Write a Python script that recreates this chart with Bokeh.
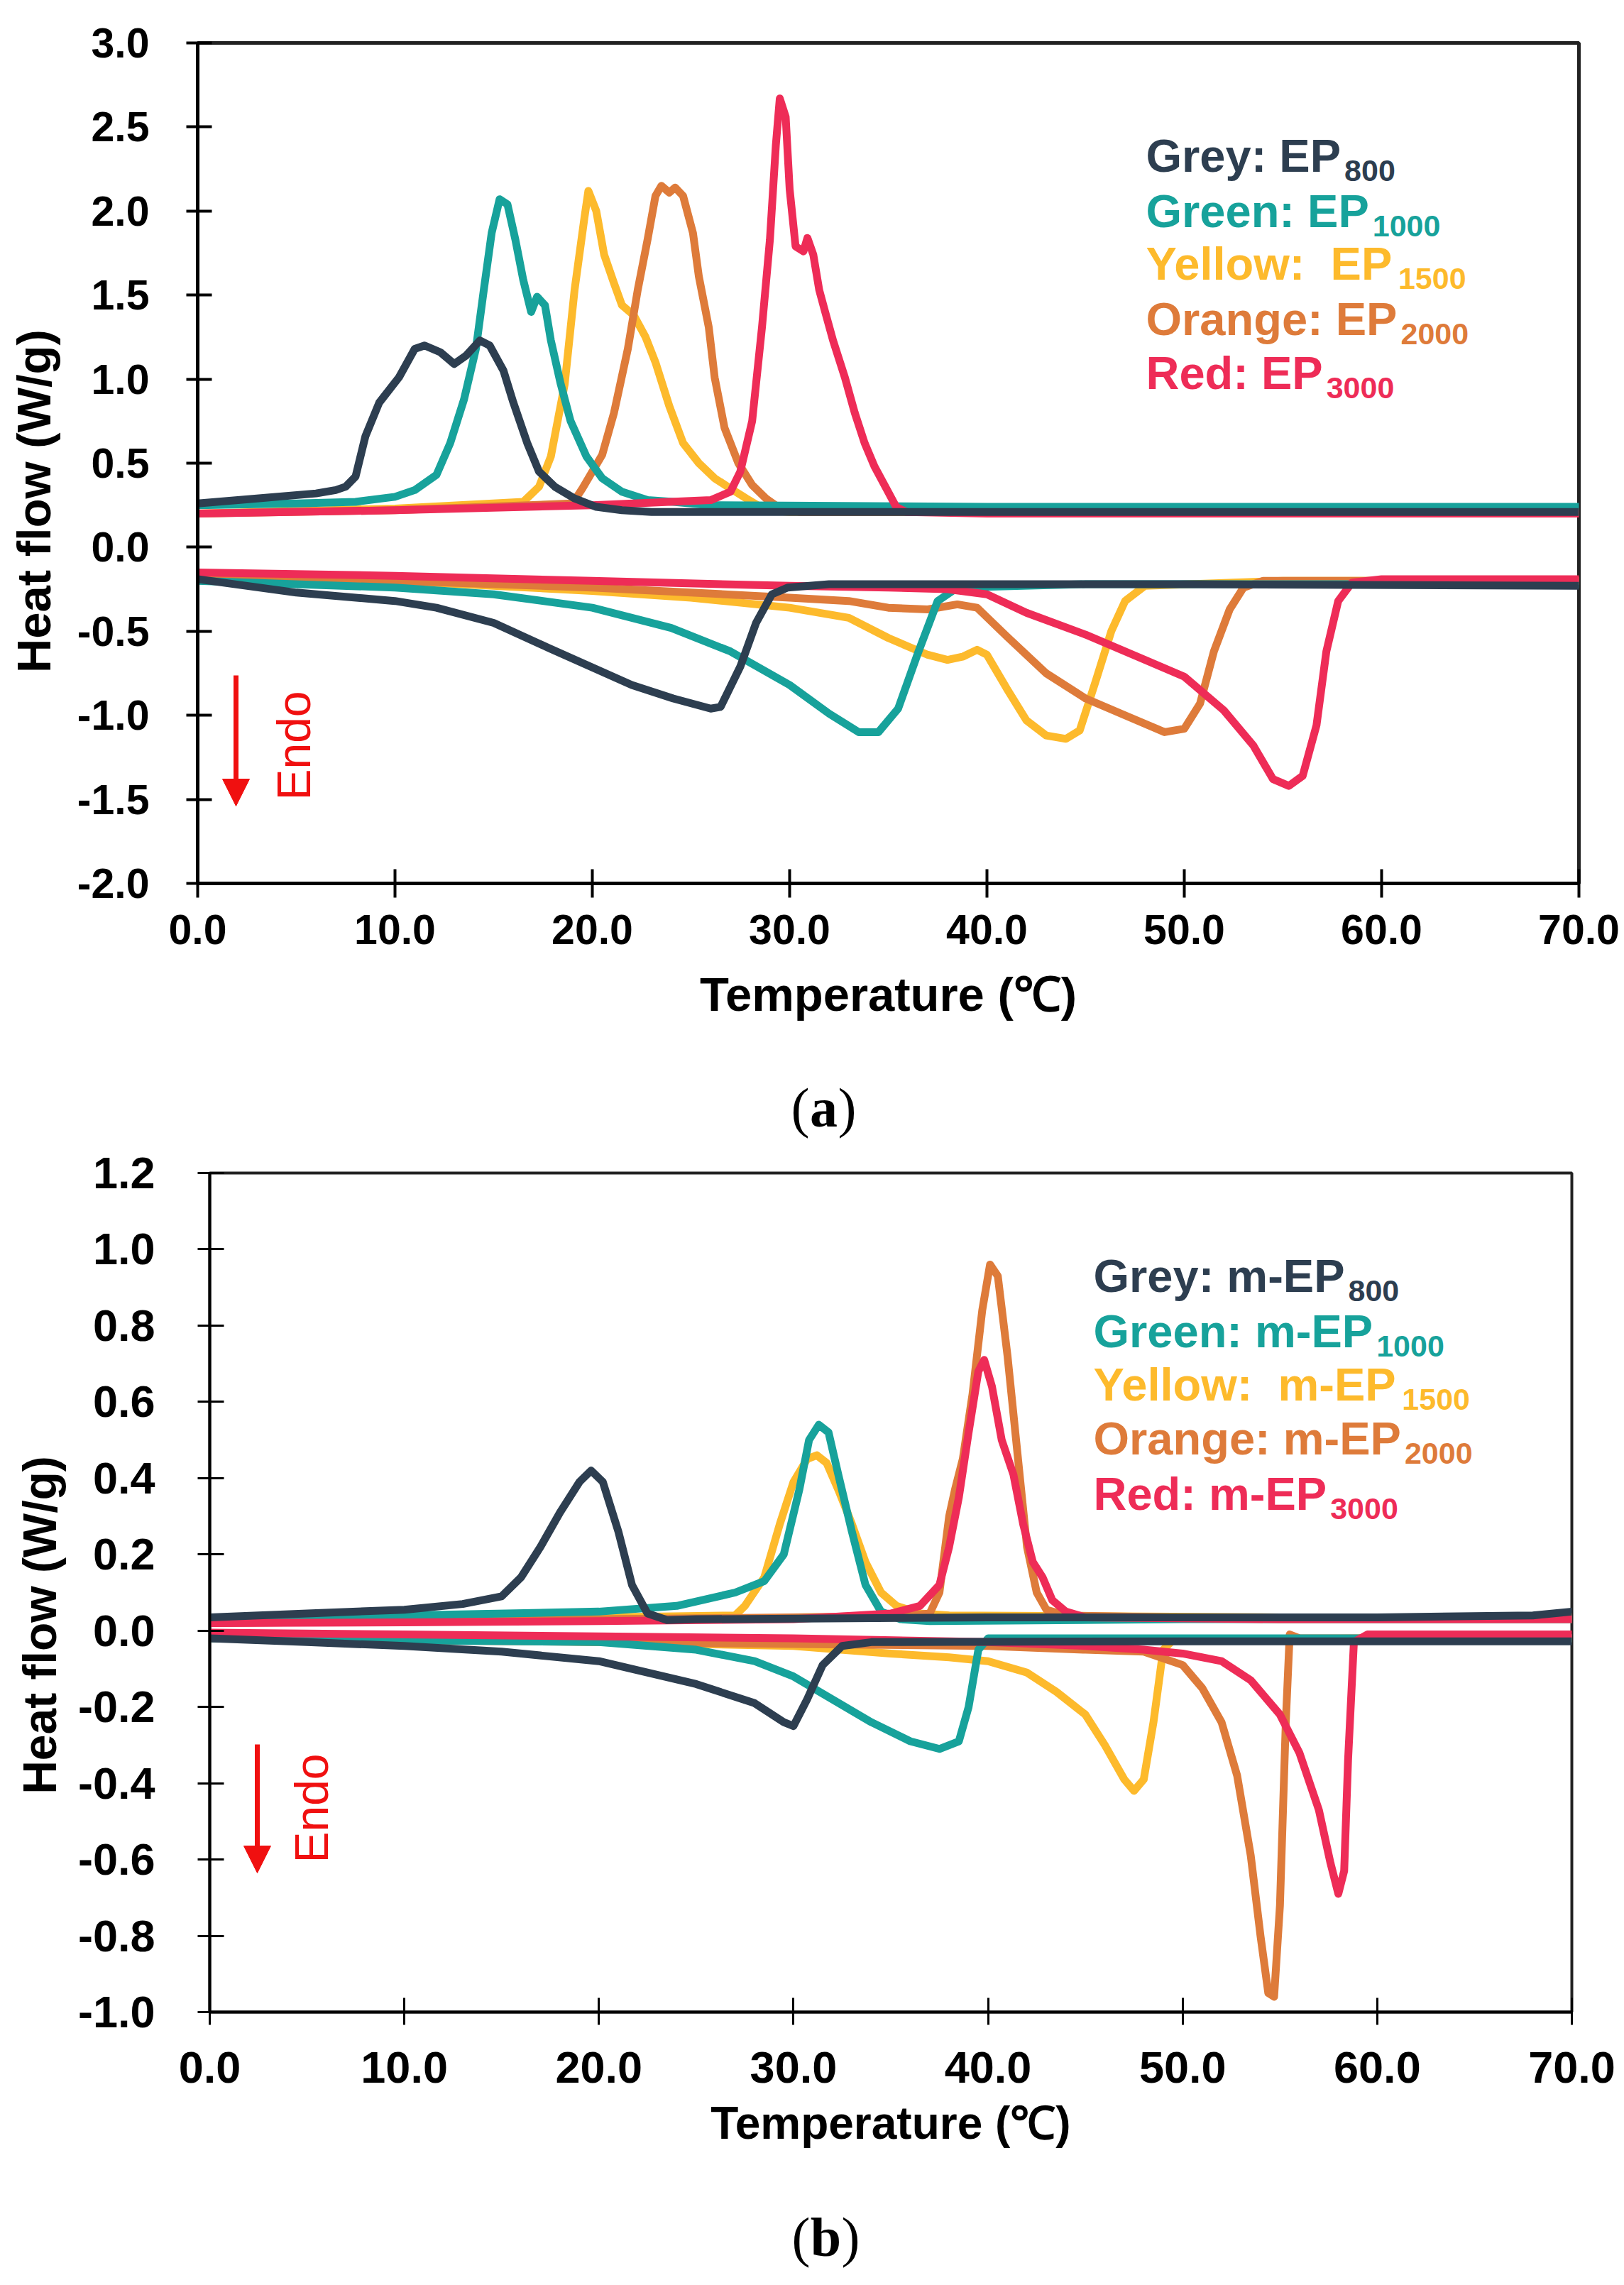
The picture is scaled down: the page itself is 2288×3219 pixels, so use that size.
import math
from bokeh.plotting import figure
from bokeh.models import Range1d, FixedTicker, PrintfTickFormatter, Label, Arrow, NormalHead
from bokeh.layouts import column, row
from bokeh.embed import file_html
from bokeh.resources import INLINE

# ---------------- data: panel (a) ----------------
a_grey_exo_x = [0, 3, 6, 7, 7.5, 8, 8.5, 9.2, 10.2, 11, 11.5, 12.3, 13, 13.6, 14.3, 14.8, 15.5, 16, 16.7, 17.3, 18.1, 19.1, 20.2, 21.5, 23, 40, 70]
a_grey_exo_y = [0.26, 0.29, 0.32, 0.34, 0.36, 0.42, 0.66, 0.86, 1.01, 1.18, 1.2, 1.16, 1.09, 1.14, 1.23, 1.2, 1.05, 0.86, 0.62, 0.45, 0.36, 0.29, 0.24, 0.22, 0.21, 0.21, 0.21]
a_grey_endo_x = [0, 5, 10, 12.1, 15, 17.8, 19.9, 22, 24.1, 26, 26.5, 27.5, 28.3, 29.1, 29.9, 32, 50, 70]
a_grey_endo_y = [-0.19, -0.27, -0.32, -0.36, -0.45, -0.6, -0.71, -0.82, -0.9, -0.96, -0.95, -0.71, -0.45, -0.28, -0.24, -0.22, -0.22, -0.23]

a_green_exo_x = [0, 5, 8, 10, 11, 12.1, 12.8, 13.5, 14.1, 14.5, 14.9, 15.3, 15.7, 16.1, 16.5, 16.9, 17.2, 17.6, 17.9, 18.4, 18.9, 19.7, 20.5, 21.5, 22.8, 24.1, 26, 40, 70]
a_green_exo_y = [0.25, 0.26, 0.27, 0.3, 0.34, 0.43, 0.62, 0.88, 1.18, 1.53, 1.87, 2.07, 2.04, 1.83, 1.59, 1.4, 1.49, 1.44, 1.23, 0.97, 0.75, 0.54, 0.41, 0.33, 0.28, 0.27, 0.25, 0.24, 0.24]
a_green_endo_x = [0, 10, 15, 20, 24, 27, 30, 32, 33.5, 34.5, 35.5, 36.5, 37.5, 38.5, 45, 70]
a_green_endo_y = [-0.2, -0.24, -0.28, -0.36, -0.48, -0.62, -0.82, -0.99, -1.1, -1.1, -0.96, -0.63, -0.32, -0.24, -0.22, -0.22]

a_yellow_exo_x = [0, 10, 16.5, 17.3, 17.9, 18.6, 19.1, 19.6, 19.8, 20.2, 20.6, 21.1, 21.5, 22.1, 22.7, 23.2, 23.9, 24.6, 25.4, 26.2, 27, 27.8, 28.8, 30, 70]
a_yellow_exo_y = [0.2, 0.23, 0.27, 0.36, 0.54, 0.97, 1.53, 1.96, 2.12, 2.0, 1.74, 1.57, 1.44, 1.38, 1.25, 1.1, 0.84, 0.62, 0.5, 0.41, 0.35, 0.29, 0.22, 0.21, 0.21]
a_yellow_endo_x = [0, 10, 20, 25, 30, 33, 35, 37, 38, 38.8, 39.5, 40, 41, 42, 43, 44, 44.7, 45.5, 46.3, 47, 48, 55, 70]
a_yellow_endo_y = [-0.16, -0.2, -0.26, -0.3, -0.36, -0.42, -0.54, -0.64, -0.67, -0.65, -0.61, -0.64, -0.84, -1.03, -1.12, -1.14, -1.09, -0.8, -0.5, -0.32, -0.23, -0.2, -0.2]

a_orange_exo_x = [0, 10, 19, 19.5, 20.5, 21.1, 21.8, 22.3, 22.8, 23.2, 23.5, 23.9, 24.2, 24.6, 25.1, 25.4, 25.9, 26.2, 26.7, 27.4, 28.1, 28.8, 29.4, 30.5, 70]
a_orange_exo_y = [0.2, 0.22, 0.26, 0.35, 0.55, 0.8, 1.18, 1.53, 1.83, 2.09, 2.15, 2.11, 2.14, 2.09, 1.87, 1.61, 1.31, 1.01, 0.71, 0.5, 0.37, 0.29, 0.24, 0.21, 0.21]
a_orange_endo_x = [0, 10, 20, 30, 33, 35, 37, 38.5, 39.5, 41, 43, 45, 47, 49, 50, 50.8, 51.5, 52.3, 53, 54, 70]
a_orange_endo_y = [-0.17, -0.2, -0.24, -0.3, -0.32, -0.36, -0.37, -0.34, -0.36, -0.53, -0.75, -0.9, -1.0, -1.1, -1.08, -0.93, -0.62, -0.37, -0.24, -0.2, -0.2]

a_red_exo_x = [0, 10, 20, 26, 27, 27.5, 28.1, 28.6, 29, 29.3, 29.5, 29.8, 30, 30.3, 30.7, 30.9, 31.2, 31.5, 31.8, 32.2, 32.8, 33.3, 33.8, 34.3, 34.9, 35.4, 35.9, 40, 70]
a_red_exo_y = [0.2, 0.22, 0.25, 0.28, 0.33, 0.45, 0.75, 1.31, 1.83, 2.39, 2.67, 2.56, 2.13, 1.79, 1.76, 1.84, 1.74, 1.53, 1.4, 1.23, 1.01, 0.8, 0.62, 0.48, 0.35, 0.24, 0.21, 0.2, 0.2]
a_red_endo_x = [0, 10, 20, 30, 35, 38, 40, 42, 45, 48, 50, 52, 53.5, 54.5, 55.3, 56, 56.7, 57.2, 57.8, 58.5, 60, 70]
a_red_endo_y = [-0.15, -0.17, -0.2, -0.23, -0.24, -0.25, -0.28, -0.39, -0.52, -0.67, -0.77, -0.97, -1.18, -1.38, -1.42, -1.36, -1.06, -0.62, -0.32, -0.21, -0.19, -0.19]

# ---------------- data: panel (b) ----------------
b_grey_exo_x = [0, 5, 10, 13, 15, 16, 17, 18, 19, 19.6, 20.2, 21, 21.7, 22.5, 23.5, 25, 40, 60, 68, 70]
b_grey_exo_y = [0.035, 0.045, 0.055, 0.07, 0.09, 0.14, 0.22, 0.31, 0.39, 0.42, 0.39, 0.26, 0.12, 0.045, 0.028, 0.03, 0.035, 0.035, 0.04, 0.05]
b_grey_endo_x = [0, 5, 10, 15, 20, 25, 28, 29.5, 30, 30.7, 31.5, 32.5, 34, 50, 70]
b_grey_endo_y = [-0.02, -0.03, -0.04, -0.055, -0.08, -0.14, -0.19, -0.24, -0.25, -0.18, -0.09, -0.04, -0.03, -0.028, -0.028]

b_green_exo_x = [0, 10, 20, 24, 27, 28.5, 29.5, 30.3, 30.8, 31.3, 31.8, 32.3, 33, 33.7, 34.5, 35.5, 37, 50, 70]
b_green_exo_y = [0.03, 0.04, 0.05, 0.065, 0.1, 0.13, 0.2, 0.37, 0.5, 0.54, 0.52, 0.41, 0.26, 0.12, 0.05, 0.03, 0.025, 0.03, 0.03]
b_green_endo_x = [0, 10, 20, 25, 28, 30, 32, 34, 36, 37.5, 38.5, 39, 39.5, 40, 50, 70]
b_green_endo_y = [-0.02, -0.025, -0.03, -0.05, -0.08, -0.12, -0.18, -0.24, -0.29, -0.31, -0.29, -0.2, -0.05, -0.02, -0.02, -0.02]

b_yellow_exo_x = [0, 10, 20, 27, 27.5, 28.5, 29.3, 30, 30.7, 31.2, 31.7, 32.3, 33, 33.7, 34.5, 35.3, 36.5, 38, 55, 70]
b_yellow_exo_y = [0.03, 0.032, 0.035, 0.04, 0.065, 0.14, 0.28, 0.39, 0.45, 0.46, 0.44, 0.37, 0.28, 0.18, 0.1, 0.065, 0.045, 0.04, 0.035, 0.035]
b_yellow_endo_x = [0, 10, 20, 30, 35, 38, 40, 42, 43.5, 45, 46, 47, 47.5, 48, 48.5, 49, 49.5, 60, 70]
b_yellow_endo_y = [-0.01, -0.02, -0.03, -0.04, -0.06, -0.07, -0.08, -0.11, -0.16, -0.22, -0.3, -0.39, -0.42, -0.39, -0.24, -0.05, -0.025, -0.02, -0.02]

b_orange_exo_x = [0, 10, 20, 30, 36, 37, 37.5, 38, 38.3, 38.7, 39.2, 39.7, 40.1, 40.5, 41, 41.5, 42, 42.5, 43, 44, 55, 70]
b_orange_exo_y = [0.02, 0.025, 0.03, 0.035, 0.04, 0.045, 0.1, 0.3, 0.37, 0.45, 0.62, 0.84, 0.96, 0.93, 0.72, 0.47, 0.22, 0.1, 0.055, 0.04, 0.03, 0.03]
b_orange_endo_x = [0, 10, 20, 30, 40, 45, 48, 50, 51, 52, 52.8, 53.5, 54, 54.4, 54.7, 55, 55.3, 55.5, 56, 70]
b_orange_endo_y = [-0.02, -0.025, -0.03, -0.035, -0.04, -0.05, -0.055, -0.09, -0.15, -0.24, -0.38, -0.59, -0.8, -0.95, -0.96, -0.72, -0.24, -0.01, -0.02, -0.02]

b_red_exo_x = [0, 10, 20, 30, 35, 36.5, 37.5, 38, 38.5, 39, 39.5, 39.8, 40.2, 40.7, 41.3, 41.8, 42.3, 42.8, 43.3, 44, 45, 55, 70]
b_red_exo_y = [0.02, 0.022, 0.025, 0.03, 0.045, 0.065, 0.12, 0.22, 0.35, 0.52, 0.68, 0.71, 0.64, 0.5, 0.41, 0.28, 0.18, 0.14, 0.08, 0.05, 0.035, 0.03, 0.03]
b_red_endo_x = [0, 10, 20, 30, 40, 45, 48, 50, 52, 53.5, 55, 56, 57, 57.6, 58, 58.3, 58.5, 58.8, 59.5, 70]
b_red_endo_y = [-0.005, -0.01, -0.015, -0.02, -0.03, -0.04, -0.05, -0.06, -0.08, -0.13, -0.22, -0.32, -0.47, -0.61, -0.69, -0.63, -0.34, -0.03, -0.01, -0.01]

# ---------------- labels ----------------
x_ticks = [0, 10, 20, 30, 40, 50, 60, 70]
a_y_ticks = [-2.0, -1.5, -1.0, -0.5, 0.0, 0.5, 1.0, 1.5, 2.0, 2.5, 3.0]
b_y_ticks = [-1.0, -0.8, -0.6, -0.4, -0.2, 0.0, 0.2, 0.4, 0.6, 0.8, 1.0, 1.2]
color_names = ["Grey: ", "Green: ", "Yellow:\u00a0 ", "Orange: ", "Red: "]
subscripts = ["800", "1000", "1500", "2000", "3000"]
colors = ["#2D3E50", "#17A29B", "#FDBA2C", "#DE7B3A", "#EE2C57"]
x_title = "Temperature (\u2103)"
y_title = "Heat flow (W/g)"

FONT = "Liberation Sans"
SERIF = "Liberation Serif"
PAGE_W = 2288
LAB_W = 100
LEG = 65
SUB = 43

# Arial-bold advance widths (per 1000 em) for placing subscripts
W = {' ': 278, '\u00a0': 278, ':': 333, '-': 333, 'E': 667, 'P': 667, 'G': 778, 'r': 389,
     'e': 556, 'y': 556, 'n': 611, 'Y': 667, 'l': 278, 'o': 611, 'w': 778, 'O': 778,
     'a': 556, 'g': 611, 'R': 722, 'd': 611, 'm': 889}


def text_w(s, size):
    return sum(W.get(c, 556) for c in s) / 1000.0 * size


def blank_fig(w, h):
    # plain pixel coordinates: y measured upward from the bottom edge
    f = figure(width=w, height=h, output_backend="svg", toolbar_location=None, title=None,
               x_range=Range1d(0, w), y_range=Range1d(0, h), x_axis_type=None, y_axis_type=None,
               min_border_left=0, min_border_right=0, min_border_top=0, min_border_bottom=0)
    f.outline_line_color = None
    f.grid.visible = False
    f.background_fill_color = "white"
    f.border_fill_color = "white"
    return f


def ylabel_fig(h, cx, cy_top, size):
    f = blank_fig(LAB_W, h)
    f.add_layout(Label(x=cx, y=h - cy_top, text=y_title, angle=math.pi / 2, text_align="center",
                       text_baseline="middle", text_font=FONT, text_font_style="bold",
                       text_font_size=size, text_color="black"))
    return f


def caption_fig(h, letter, cx, mid_top, lw):
    f = blank_fig(PAGE_W, h)
    kw = dict(y=h - mid_top, text_baseline="middle", text_font=SERIF, text_font_size="78px",
              text_color="black")
    f.add_layout(Label(x=cx, text=letter, text_align="center", text_font_style="bold", **kw))
    f.add_layout(Label(x=cx - lw / 2, text="(", text_align="right", **kw))
    f.add_layout(Label(x=cx + lw / 2, text=")", text_align="left", **kw))
    return f


def make_panel(series, prefix, ymin, ymax, yticks, fig_h, page_top,
               fl, fr, ft, fb, lw_axis, leg_x, leg_base, arrow, endo,
               tick_size, tick_out_x, tick_out_y, x_stand, y_stand, xl_stand, xl_size):
    p = figure(frame_width=fr - fl, frame_height=fb - ft, output_backend="svg",
               toolbar_location=None, title=None,
               x_range=Range1d(0, 70), y_range=Range1d(ymin, ymax),
               min_border_left=fl - LAB_W, min_border_right=PAGE_W - fr,
               min_border_top=ft - page_top, min_border_bottom=page_top + fig_h - fb)
    p.background_fill_color = "white"
    p.border_fill_color = "white"
    p.outline_line_color = "#222222"
    p.outline_line_width = lw_axis
    p.grid.visible = False

    def px2x(px):
        return (px - fl) / (fr - fl) * 70.0

    def py2y(py):
        return ymax - (py - ft) / (fb - ft) * (ymax - ymin)

    for i in [2, 3, 1, 4, 0]:
        (ex, ey), (nx, ny) = series[i]
        p.line(ex, ey, line_color=colors[i], line_width=11, line_join="round", line_cap="round")
        p.line(nx, ny, line_color=colors[i], line_width=11, line_join="round", line_cap="round")

    p.xaxis.ticker = FixedTicker(ticks=x_ticks)
    p.xaxis.formatter = PrintfTickFormatter(format="%.1f")
    p.yaxis.ticker = FixedTicker(ticks=yticks)
    p.yaxis.formatter = PrintfTickFormatter(format="%.1f")
    for ax in (p.xaxis, p.yaxis):
        ax.axis_line_width = lw_axis
        ax.axis_line_color = "black"
        ax.major_tick_line_width = lw_axis - 1
        ax.major_tick_line_color = "black"
        ax.minor_tick_line_color = None
        ax.major_label_text_font = FONT
        ax.major_label_text_font_style = "bold"
        ax.major_label_text_font_size = tick_size
        ax.major_label_text_color = "black"
    p.xaxis.major_tick_in = 20
    p.xaxis.major_tick_out = tick_out_x
    p.yaxis.major_tick_in = 20
    p.yaxis.major_tick_out = tick_out_y
    p.xaxis.major_label_standoff = x_stand
    p.yaxis.major_label_standoff = y_stand
    p.xaxis.axis_label = x_title
    p.xaxis.axis_label_text_font = FONT
    p.xaxis.axis_label_text_font_style = "bold"
    p.xaxis.axis_label_text_font_size = xl_size
    p.xaxis.axis_label_text_color = "black"
    p.xaxis.axis_label_standoff = xl_stand

    # legend: anchor at the cap-height middle of the main text
    for i in range(5):
        main = color_names[i] + prefix + "EP"
        ym = py2y(leg_base[i] - 0.358 * LEG)
        p.add_layout(Label(x=px2x(leg_x), y=ym, text=main, text_align="left",
                           text_baseline="middle", text_font=FONT, text_font_style="bold",
                           text_font_size="%dpx" % LEG, text_color=colors[i]))
        sub_drop = 13 + 0.358 * LEG - 0.358 * SUB
        p.add_layout(Label(x=px2x(leg_x), y=ym, x_offset=text_w(main, LEG) + 5, y_offset=-sub_drop,
                           text=subscripts[i], text_align="left", text_baseline="middle",
                           text_font=FONT, text_font_style="bold", text_font_size="%dpx" % SUB,
                           text_color=colors[i]))

    ax_, ay0, ay1 = arrow
    p.add_layout(Arrow(end=NormalHead(size=38, fill_color="#F01010", line_color="#F01010"),
                       x_start=px2x(ax_), y_start=py2y(ay0), x_end=px2x(ax_), y_end=py2y(ay1),
                       line_color="#F01010", line_width=7))
    p.add_layout(Label(x=px2x(endo[0]), y=py2y(endo[1]), text="Endo", angle=math.pi / 2,
                       text_align="center", text_baseline="middle", text_font=FONT,
                       text_font_size="66px", text_color="#F01010"))
    return p


series_a = [((a_grey_exo_x, a_grey_exo_y), (a_grey_endo_x, a_grey_endo_y)),
            ((a_green_exo_x, a_green_exo_y), (a_green_endo_x, a_green_endo_y)),
            ((a_yellow_exo_x, a_yellow_exo_y), (a_yellow_endo_x, a_yellow_endo_y)),
            ((a_orange_exo_x, a_orange_exo_y), (a_orange_endo_x, a_orange_endo_y)),
            ((a_red_exo_x, a_red_exo_y), (a_red_endo_x, a_red_endo_y))]
series_b = [((b_grey_exo_x, b_grey_exo_y), (b_grey_endo_x, b_grey_endo_y)),
            ((b_green_exo_x, b_green_exo_y), (b_green_endo_x, b_green_endo_y)),
            ((b_yellow_exo_x, b_yellow_exo_y), (b_yellow_endo_x, b_yellow_endo_y)),
            ((b_orange_exo_x, b_orange_exo_y), (b_orange_endo_x, b_orange_endo_y)),
            ((b_red_exo_x, b_red_exo_y), (b_red_endo_x, b_red_endo_y))]

# panel (a): page rows 0..1500, caption 1500..1610
pa = make_panel(series_a, "", -2.0, 3.0, a_y_ticks, 1500, 0,
                278, 2224, 60, 1244, 5, 1614, [242, 320, 394, 472, 548],
                (332, 951, 1135), (413, 1050),
                "59px", 20, 16, 24, 52, 30, "67px")
# the rotated title renders about 95 px above its anchor in this narrow strip; compensate
ya = ylabel_fig(1500, 47, 723 + 95, "67px")
ca = caption_fig(110, "a", 1160, 60, 40)

# panel (b): page rows 1610..3100, caption 3100..3219
pb = make_panel(series_b, "m-", -1.0, 1.2, b_y_ticks, 1490, 1610,
                295, 2214, 1652, 2834, 4, 1540, [1820, 1898, 1973, 2049, 2127],
                (362, 2457, 2638), (438, 2547),
                "63px", 18, 17, 38, 60, 18, "64px")
yb = ylabel_fig(1490, 55, 2310 - 1610 + 103, "66px")
cb = caption_fig(119, "b", 1163, 51, 44)

layout = column(row(ya, pa, spacing=0), ca, row(yb, pb, spacing=0), cb, spacing=0)
open("out.html", "w").write(file_html(layout, INLINE))
